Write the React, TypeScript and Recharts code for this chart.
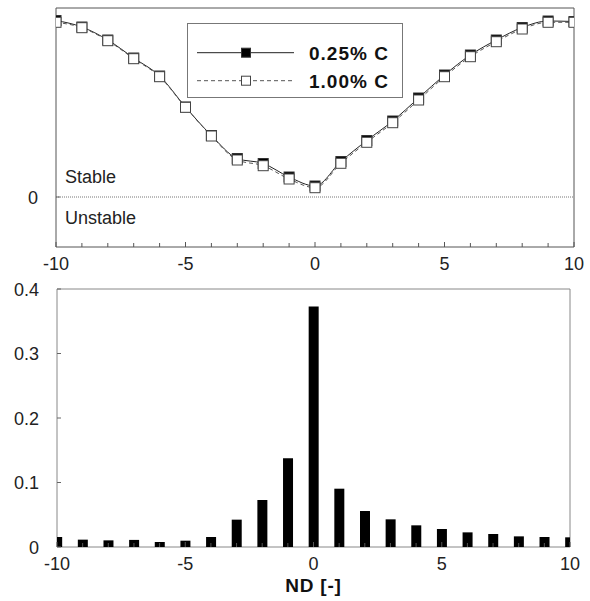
import React from 'react';
import {
  LineChart,
  Line,
  XAxis,
  YAxis,
  ReferenceLine,
  ReferenceArea,
  Legend,
  BarChart,
  Bar,
} from 'recharts';

// ---- data ----
const ndValues = [-10, -9, -8, -7, -6, -5, -4, -3, -2, -1, 0, 1, 2, 3, 4, 5, 6, 7, 8, 9, 10];
const stability025 = [1.765, 1.7, 1.57, 1.39, 1.21, 0.9, 0.615, 0.385, 0.335, 0.2, 0.11, 0.355, 0.565, 0.76, 0.99, 1.22, 1.42, 1.57, 1.695, 1.76, 1.755];
const stability100 = [1.747, 1.693, 1.563, 1.383, 1.203, 0.897, 0.61, 0.37, 0.313, 0.18, 0.093, 0.337, 0.547, 0.743, 0.97, 1.203, 1.403, 1.553, 1.68, 1.747, 1.747];
const frequency = [0.0155, 0.0114, 0.0103, 0.011, 0.0078, 0.0098, 0.0155, 0.0424, 0.0729, 0.1375, 0.373, 0.0904, 0.0558, 0.0429, 0.0336, 0.0279, 0.0227, 0.0202, 0.0165, 0.0155, 0.015];
const xTicks = ndValues;
const topYTicks = [0];
const topYDomain = [-0.5, 1.89];
const bottomYTicks = [0, 0.1, 0.2, 0.3, 0.4];
const seriesNames = ['0.25% C', '1.00% C'];
const xLabel = 'ND [-]';
const stableText = 'Stable';
const unstableText = 'Unstable';

const lineData = ndValues.map((nd, i) => ({ nd, c025: stability025[i], c100: stability100[i] }));
const barData = ndValues.map((nd, i) => ({ nd, freq: frequency[i] }));

const FONT = '"Liberation Sans", Arial, Helvetica, sans-serif';
const TEXT = '#222';

const BottomTick = (props: any) => {
  const { x, y, payload } = props;
  const v = payload.value;
  const major = v % 5 === 0;
  return (
    <g>
      <line x1={x} x2={x} y1={y} y2={y - (major ? 5 : 4)} stroke="#555" />
      {major && (
        <text x={x} y={y + 23} textAnchor="middle" fontSize={18} fontFamily={FONT} fill={TEXT}>
          {String(v)}
        </text>
      )}
    </g>
  );
};

const TopEdgeTick = (props: any) => {
  const { x, y, payload } = props;
  const major = payload.value % 5 === 0;
  return <line x1={x} x2={x} y1={y} y2={y + (major ? 6 : 4)} stroke="#777" />;
};

const makeYTick = (fmt: (v: number) => string) => (props: any) => {
  const { x, y, payload } = props;
  return (
    <g>
      <line x1={x} x2={x + 4} y1={y} y2={y} stroke="#666" />
      <text x={x - 18} y={y + 6.5} textAnchor="end" fontSize={18} fontFamily={FONT} fill={TEXT}>
        {fmt(payload.value)}
      </text>
    </g>
  );
};

const squareDot = (fill: string, stroke: string) => (props: any) => {
  const { cx, cy, index } = props;
  if (cx == null || cy == null) return <g key={index} />;
  return (
    <rect key={index} x={cx - 5} y={cy - 5} width={10} height={10} fill={fill} stroke={stroke} strokeWidth={1} />
  );
};

const zoneLabels = (props: any) => {
  const vb = props.viewBox || {};
  const x = vb.x ?? 0;
  const y = vb.y ?? 0;
  return (
    <g>
      <text x={x + 9} y={y - 14.5} fontSize={18} fontFamily={FONT} fill={TEXT}>
        {stableText}
      </text>
      <text x={x + 9} y={y + 27} fontSize={18} fontFamily={FONT} fill={TEXT}>
        {unstableText}
      </text>
    </g>
  );
};

const LegendContent = () => (
  <div
    style={{
      width: 216,
      height: 75,
      border: '1px solid #777',
      boxSizing: 'border-box',
      background: '#fff',
      position: 'relative',
    }}
  >
    <svg width={216} height={75} style={{ position: 'absolute', left: -1, top: -1 }}>
      <line x1={10} x2={107} y1={29.7} y2={29.7} stroke="#222" strokeWidth={1} />
      <rect x={54.5} y={25.2} width={9} height={9} fill="#000" stroke="#333" />
      <text x={122} y={36.5} fontSize={19} fontWeight="bold" letterSpacing={1} fontFamily={FONT} fill="#111">
        {seriesNames[0]}
      </text>
      <line x1={10} x2={107} y1={57.7} y2={57.7} stroke="#555" strokeWidth={1} strokeDasharray="4 3" />
      <rect x={54.5} y={53.2} width={9} height={9} fill="#fff" stroke="#444" />
      <text x={122} y={64.5} fontSize={19} fontWeight="bold" letterSpacing={1} fontFamily={FONT} fill="#111">
        {seriesNames[1]}
      </text>
    </svg>
  </div>
);

export default function App() {
  return (
    <div style={{ position: 'absolute', left: 0, top: 0, width: 590, height: 601, background: '#fff' }}>
      <div style={{ position: 'absolute', left: 0, top: 0 }}>
        <LineChart width={590} height={280} data={lineData} margin={{ top: 8, right: 16, bottom: 0, left: 0 }}>
          <XAxis
            dataKey="nd"
            type="number"
            domain={[-10, 10]}
            ticks={xTicks}
            interval={0}
            allowDataOverflow
            axisLine={false}
            tickLine={false}
            tickSize={0}
            tickMargin={0}
            height={33}
            tick={<BottomTick />}
          />
          <YAxis
            type="number"
            domain={topYDomain}
            ticks={topYTicks}
            allowDataOverflow
            axisLine={false}
            tickLine={false}
            tickSize={0}
            tickMargin={0}
            width={56}
            tick={makeYTick((v) => String(v))}
          />
          <ReferenceArea x1={-10} x2={10} y1={topYDomain[0]} y2={topYDomain[1]} fill="none" stroke="#555" strokeWidth={1} />
          <ReferenceLine y={0} stroke="#777" strokeDasharray="1 1" label={zoneLabels} />
          <Legend
            layout="vertical"
            align="center"
            verticalAlign="middle"
            wrapperStyle={{ left: 187, top: 23, width: 216, height: 75 }}
            content={<LegendContent />}
          />
          <Line
            dataKey="c025"
            name={seriesNames[0]}
            type="monotone"
            stroke="#222"
            strokeWidth={1}
            dot={squareDot('#000', '#333')}
            activeDot={false}
            isAnimationActive={false}
          />
          <Line
            dataKey="c100"
            name={seriesNames[1]}
            type="monotone"
            stroke="#555"
            strokeWidth={1}
            strokeDasharray="4 3"
            dot={squareDot('#fff', '#444')}
            activeDot={false}
            isAnimationActive={false}
          />
        </LineChart>
      </div>
      <div style={{ position: 'absolute', left: 0, top: 280 }}>
        <BarChart width={590} height={321} data={barData} margin={{ top: 9, right: 20, bottom: 0, left: 0 }}>
          <XAxis
            dataKey="nd"
            type="number"
            domain={[-10, 10]}
            ticks={xTicks}
            interval={0}
            allowDataOverflow
            axisLine={false}
            tickLine={false}
            tickSize={0}
            tickMargin={0}
            height={54}
            tick={<BottomTick />}
            label={{
              value: xLabel,
              position: 'insideBottom',
              offset: 9,
              style: { fontSize: 19, fontWeight: 'bold', fontFamily: FONT, fill: '#111', letterSpacing: 0.8 },
            }}
          />
          <XAxis
            xAxisId="top"
            orientation="top"
            type="number"
            domain={[-10, 10]}
            ticks={xTicks}
            interval={0}
            allowDataOverflow
            axisLine={false}
            tickLine={false}
            tickSize={0}
            tickMargin={0}
            height={0}
            tick={<TopEdgeTick />}
          />
          <YAxis
            type="number"
            domain={[0, 0.4]}
            ticks={bottomYTicks}
            allowDataOverflow
            axisLine={false}
            tickLine={false}
            tickSize={0}
            tickMargin={0}
            width={57}
            tick={makeYTick((v) => (v === 0 ? '0' : v.toFixed(1)))}
          />
          <Bar dataKey="freq" fill="#000" barSize={10} isAnimationActive={false} />
          <ReferenceArea x1={-10} x2={10} y1={0} y2={0.4} fill="none" stroke="#888" strokeWidth={1} />
        </BarChart>
      </div>
    </div>
  );
}
